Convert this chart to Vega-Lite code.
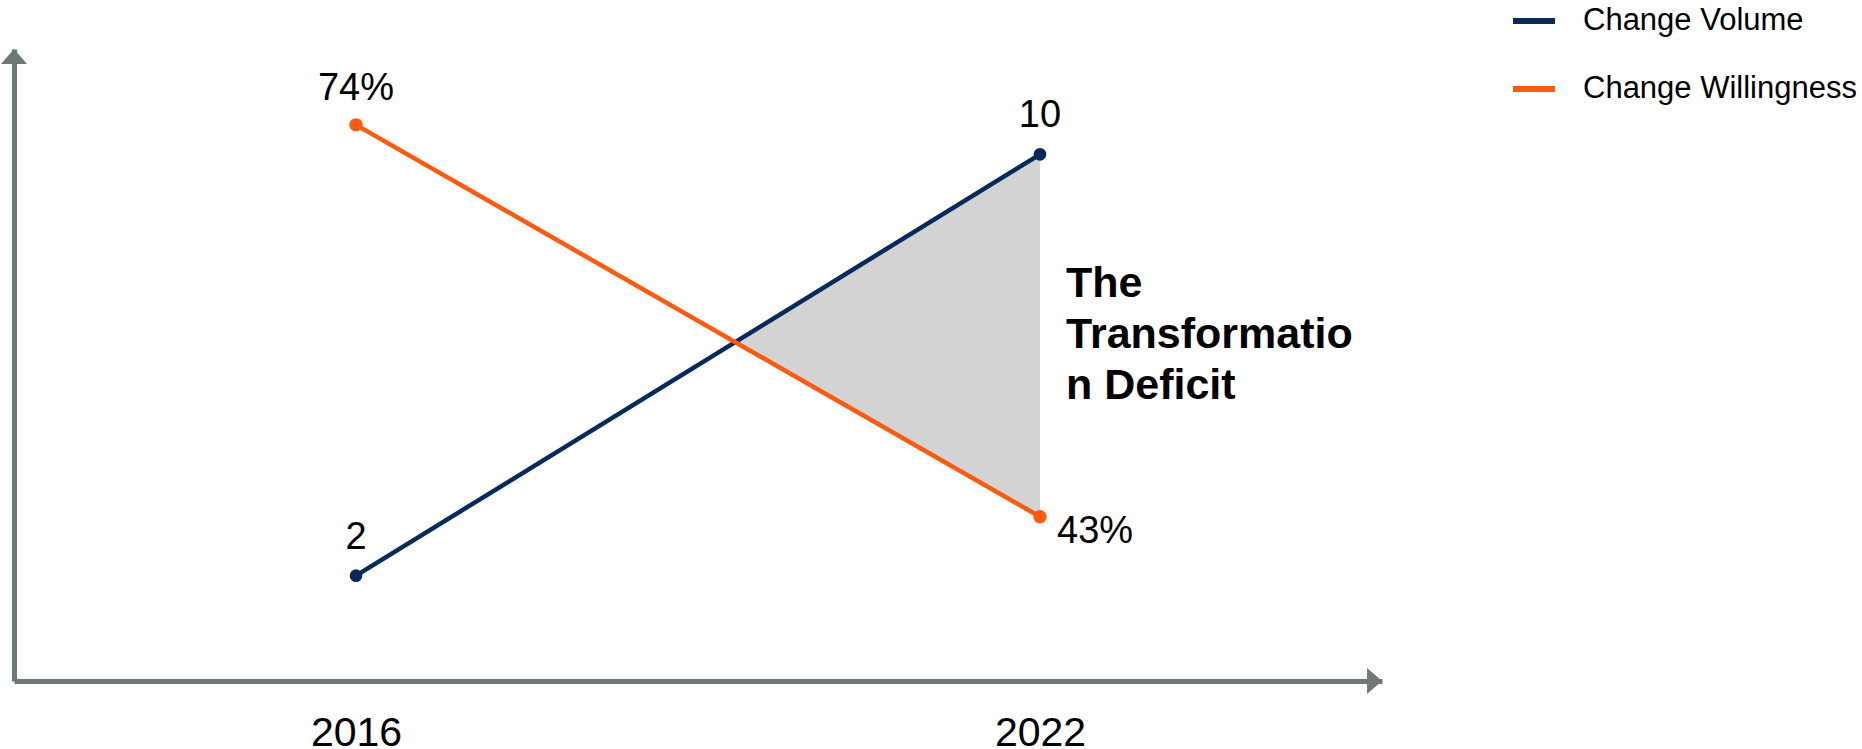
{
  "$schema": "https://vega.github.io/schema/vega-lite/v6.json",
  "autosize": {"type": "none"},
  "padding": {"left": 14, "top": 49, "right": 480, "bottom": 68},
  "width": 1368,
  "height": 632,
  "config": {
    "view": {"stroke": null},
    "font": "Liberation Sans",
    "legend": {"orient": "none", "legendX": 1496, "legendY": -52, "padding": 0}
  },
  "datasets": {
    "volume": [
      {"year": 2016, "series": "Change Volume", "value": 2},
      {"year": 2022, "series": "Change Volume", "value": 10}
    ],
    "willingness": [
      {"year": 2016, "series": "Change Willingness", "value": 0.74},
      {"year": 2022, "series": "Change Willingness", "value": 0.43}
    ],
    "deficit": [
      {"year": 2019.33, "upper": 6.435, "lower": 6.435},
      {"year": 2022, "upper": 10, "lower": 3.12}
    ]
  },
  "layer": [
    {
      "layer": [
        {
          "data": {"name": "deficit"},
          "mark": {"type": "area", "color": "#d3d3d3", "opacity": 1},
          "encoding": {
            "x": {
              "field": "year",
              "type": "quantitative",
              "scale": {"domain": [2013, 2025], "nice": false, "zero": false},
              "axis": {
                "values": [2016, 2022],
                "format": "d",
                "title": null,
                "grid": false,
                "ticks": false,
                "tickSize": 0,
                "domainColor": "#6f7777",
                "domainWidth": 5,
                "labelFontSize": 41,
                "labelColor": "#000000",
                "labelBaseline": "alphabetic",
                "labelPadding": 64
              }
            },
            "y": {
              "field": "upper",
              "type": "quantitative",
              "scale": {"domain": [0, 12], "nice": false, "zero": false},
              "axis": {
                "title": null,
                "labels": false,
                "ticks": false,
                "grid": false,
                "domainColor": "#6f7777",
                "domainWidth": 5
              }
            },
            "y2": {"field": "lower"}
          }
        },
        {
          "data": {"name": "volume"},
          "mark": {"type": "line", "strokeWidth": 4.5},
          "encoding": {
            "x": {"field": "year", "type": "quantitative"},
            "y": {"field": "value", "type": "quantitative"},
            "color": {
              "field": "series",
              "type": "nominal",
              "scale": {"domain": ["Change Volume", "Change Willingness"], "range": ["#062b5b", "#ff5a10"]},
              "legend": {
                "title": null,
                "symbolType": "stroke",
                "symbolSize": 1764,
                "symbolStrokeWidth": 6,
                "labelFontSize": 31,
                "labelFont": "Liberation Sans",
                "labelColor": "#000000",
                "labelOffset": 25,
                "labelLimit": 0,
                "rowPadding": 29
              }
            }
          }
        },
        {
          "data": {"name": "volume"},
          "mark": {"type": "point", "filled": true, "opacity": 1, "size": 160, "color": "#062b5b"},
          "encoding": {
            "x": {"field": "year", "type": "quantitative"},
            "y": {"field": "value", "type": "quantitative"}
          }
        },
        {
          "data": {"name": "volume"},
          "mark": {"type": "text", "fontSize": 38, "dy": -27, "align": "center", "baseline": "alphabetic", "color": "#000000"},
          "encoding": {
            "x": {"field": "year", "type": "quantitative"},
            "y": {"field": "value", "type": "quantitative"},
            "text": {"field": "value", "type": "quantitative", "format": "d"}
          }
        },
        {
          "data": {"values": [{}]},
          "mark": {"type": "text", "fontSize": 43, "fontWeight": "bold", "align": "left", "baseline": "alphabetic", "dx": 26, "lineHeight": 51, "color": "#000000", "text": ["The", "Transformatio", "n Deficit"]},
          "encoding": {
            "x": {"datum": 2022, "type": "quantitative"},
            "y": {"datum": 7.3, "type": "quantitative"}
          }
        },
        {
          "data": {"values": [{}]},
          "mark": {"type": "point", "filled": true, "opacity": 1, "size": 676, "color": "#6f7777", "shape": "M -1.15 -1 L 0 0 L -1.15 1 Z"},
          "encoding": {
            "x": {"datum": 2025, "type": "quantitative"},
            "y": {"datum": 0, "type": "quantitative"}
          }
        },
        {
          "data": {"values": [{}]},
          "mark": {"type": "point", "filled": true, "opacity": 1, "size": 676, "color": "#6f7777", "shape": "M -1 1.15 L 0 0 L 1 1.15 Z"},
          "encoding": {
            "x": {"datum": 2013, "type": "quantitative"},
            "y": {"datum": 12, "type": "quantitative"}
          }
        }
      ]
    },
    {
      "data": {"name": "willingness"},
      "encoding": {
        "x": {"field": "year", "type": "quantitative"},
        "y": {
          "field": "value",
          "type": "quantitative",
          "scale": {"domain": [0.3, 0.8], "nice": false, "zero": false},
          "axis": null
        }
      },
      "layer": [
        {
          "mark": {"type": "line", "strokeWidth": 4.5},
          "encoding": {"color": {"field": "series", "type": "nominal"}}
        },
        {
          "mark": {"type": "point", "filled": true, "opacity": 1, "size": 180, "color": "#ff5a10"},
          "encoding": {}
        },
        {
          "transform": [{"filter": "datum.year == 2016"}],
          "mark": {"type": "text", "fontSize": 38, "dy": -25, "align": "center", "baseline": "alphabetic", "color": "#000000"},
          "encoding": {"text": {"field": "value", "type": "quantitative", "format": ".0%"}}
        },
        {
          "transform": [{"filter": "datum.year == 2022"}],
          "mark": {"type": "text", "fontSize": 38, "dx": 17, "dy": 26, "align": "left", "baseline": "alphabetic", "color": "#000000"},
          "encoding": {"text": {"field": "value", "type": "quantitative", "format": ".0%"}}
        }
      ]
    }
  ],
  "resolve": {"scale": {"y": "independent"}}
}
